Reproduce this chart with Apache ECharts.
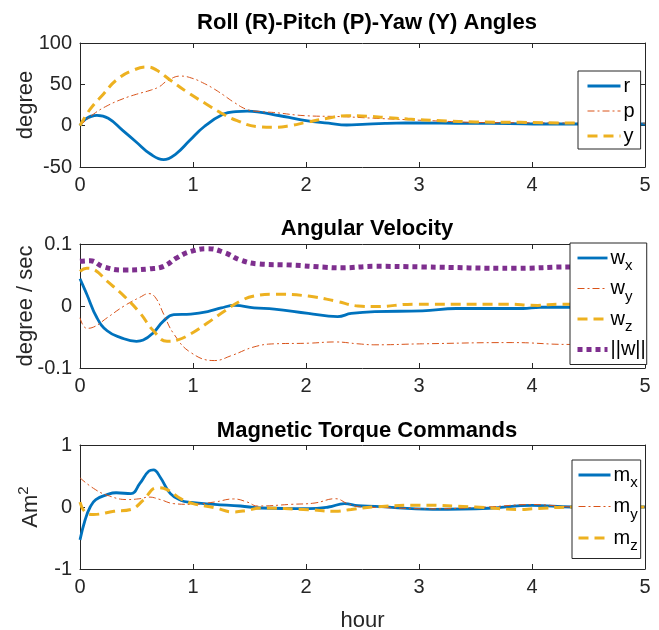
<!DOCTYPE html>
<html>
<head>
<meta charset="utf-8">
<script src="https://cdn.jsdelivr.net/npm/echarts@6/dist/echarts.min.js"></script>
<style>html,body{margin:0;padding:0;background:#fff}#c{width:659px;height:630px}</style>
</head>
<body>
<div id="c"></div>
<script>
// ---------- data (hour, value) ----------
const xTicks = [0, 1, 2, 3, 4, 5];

const titles = ['Roll (R)-Pitch (P)-Yaw (Y) Angles', 'Angular Velocity', 'Magnetic Torque Commands'];

// Plot 1: Euler angles (degree)
const rH = [0,0.05,0.15,0.25,0.38,0.5,0.62,0.74,0.85,0.97,1.1,1.27,1.38,1.48,1.6,1.71,1.85,2.0,2.2,2.36,2.5,2.7,2.88,3.2,3.47,3.8,4.1,4.36,4.7,5.0];
const rV = [0,8,12.5,9,-6,-20,-34,-41,-34,-18,-1,14,17,17.5,16,13.4,10,6,3,0.8,1.5,2.8,3.3,3,2.8,2.5,2,2,2,2];
const pH = [0,0.12,0.24,0.38,0.5,0.62,0.7,0.77,0.89,1.0,1.1,1.18,1.27,1.36,1.48,1.6,1.71,2.0,2.3,2.6,2.88,3.2,3.47,3.9,4.36,5.0];
const pV = [0,14,24,32.5,38,42.7,47,54,60,57,51,45,37,28.5,19.5,17,16,12,11,9,7.3,5.5,4,3.5,3.2,3];
const yH = [0,0.09,0.21,0.32,0.47,0.6,0.68,0.8,0.97,1.12,1.24,1.39,1.57,1.71,1.86,2.0,2.19,2.36,2.54,2.7,2.9,3.2,3.5,3.9,4.36,5.0];
const yV = [0,20,38.6,55,67,71,67,55,38.6,26,16,6,-1.2,-2,0,4,9,12,11.5,10,8,6,4.5,4,3.2,3];

// Plot 2: angular velocity (degree / sec)
const wxH = [0,0.06,0.15,0.24,0.36,0.5,0.56,0.65,0.74,0.83,0.98,1.13,1.25,1.37,1.54,1.72,2.02,2.28,2.4,2.61,3.03,3.33,3.92,4.07,4.33,5.0];
const wxV = [0.044,0.019,-0.019,-0.040,-0.051,-0.057,-0.055,-0.043,-0.024,-0.014,-0.013,-0.009,-0.003,0.001,-0.003,-0.005,-0.012,-0.017,-0.012,-0.009,-0.008,-0.004,-0.004,-0.002,-0.002,-0.002];
const wyH = [0,0.06,0.12,0.24,0.39,0.53,0.61,0.67,0.74,0.83,0.98,1.19,1.34,1.54,1.72,2.02,2.26,2.46,2.61,3.03,3.83,4.33,5.0];
const wyV = [-0.019,-0.036,-0.034,-0.019,0,0.014,0.020,0.013,-0.013,-0.045,-0.075,-0.088,-0.080,-0.066,-0.061,-0.060,-0.058,-0.061,-0.0626,-0.061,-0.059,-0.062,-0.062];
const wzH = [0,0.06,0.12,0.24,0.39,0.53,0.65,0.77,0.86,0.98,1.13,1.28,1.42,1.54,1.72,2.02,2.26,2.46,2.6,2.97,3.76,4.05,4.23,5.0];
const wzV = [0.056,0.061,0.059,0.040,0.016,-0.011,-0.040,-0.057,-0.055,-0.045,-0.027,-0.008,0.008,0.016,0.019,0.016,0.008,0,-0.001,0.003,0.003,0.001,0.003,0.003];
const wnH = [0,0.09,0.21,0.39,0.62,0.74,0.86,0.98,1.13,1.28,1.42,1.57,1.87,2.17,2.31,2.61,3.03,3.86,4.33,5.0];
const wnV = [0.072,0.073,0.063,0.058,0.060,0.064,0.078,0.088,0.0925,0.086,0.074,0.068,0.066,0.0625,0.0615,0.064,0.063,0.0607,0.063,0.063];

// Plot 3: magnetic torque commands (Am^2)
const mxH = [0,0.045,0.09,0.14,0.24,0.32,0.45,0.53,0.61,0.65,0.71,0.8,0.89,0.98,1.19,1.42,1.6,2.02,2.2,2.34,2.46,2.61,3.12,3.62,4.0,4.36,5.0];
const mxV = [-0.53,-0.21,0,0.12,0.20,0.23,0.215,0.38,0.58,0.60,0.48,0.215,0.11,0.075,0.043,0.016,-0.016,-0.027,0,0.054,0.02,0.01,-0.037,-0.02,0.027,0,0];
const myH = [0,0.12,0.24,0.42,0.53,0.61,0.71,0.83,0.98,1.19,1.36,1.48,1.57,1.87,2.08,2.26,2.37,2.49,2.7,3.1,3.6,4.0,4.4,5.0];
const myV = [0.47,0.30,0.19,0.12,0.134,0.16,0.12,0.054,0.043,0.08,0.13,0.08,0.016,0.043,0.065,0.134,0.054,0,-0.01,-0.03,0,0.04,0,0];
const mzH = [0,0.045,0.12,0.3,0.45,0.56,0.68,0.77,0.89,1.0,1.19,1.36,1.48,1.6,2.02,2.26,2.4,2.6,3.0,3.5,3.9,4.0,4.4,5.0];
const mzV = [0.08,-0.08,-0.12,-0.07,-0.04,0.11,0.31,0.28,0.134,0.054,-0.01,-0.08,-0.054,-0.016,-0.043,-0.07,-0.04,0,0.03,0,-0.04,-0.03,0,0];

// ---------- styling ----------
const C = {blue:'#0072BD', orange:'#D95319', yellow:'#EDB120', purple:'#7E2F8E'};
const AX = '#262626';
const FONT = '"Liberation Sans", Arial, Helvetica, sans-serif';
const zip = (h, v) => h.map((x, i) => [x, v[i]]);

const gridTops = [43, 244, 445];
const gridH = 124;
const yRanges = [
  {min:-50, max:100, interval:50, name:'degree', gap:43},
  {min:-0.1, max:0.1, interval:0.1, name:'degree / sec', gap:43},
  {min:-1, max:1, interval:1, name:'Am{sup|2}', gap:35}
];

const grids = gridTops.map(t => ({left:80, right:14, top:t, height:gridH, containLabel:false, outerBoundsMode:'none'}));

const xAxes = [], yAxes = [];
gridTops.forEach((t, i) => {
  xAxes.push({
    type:'value', gridIndex:i, min:0, max:5, interval:1, position:'bottom',
    axisLine:{show:true, onZero:false, lineStyle:{color:AX, width:1}},
    axisTick:{show:true, inside:true, length:5, lineStyle:{color:AX}},
    axisLabel:{show:true, color:AX, fontSize:20, fontFamily:FONT, margin:8},
    splitLine:{show:false},
    name: i === 2 ? 'hour' : '', nameLocation:'middle', nameGap:41, nameMoveOverlap:false,
    nameTextStyle:{color:AX, fontSize:22, fontFamily:FONT}
  });
  xAxes.push({
    type:'value', gridIndex:i, min:0, max:5, interval:1, position:'top',
    axisLine:{show:true, onZero:false, lineStyle:{color:AX, width:1}},
    axisTick:{show:true, inside:true, length:5, lineStyle:{color:AX}},
    axisLabel:{show:false}, splitLine:{show:false}
  });
  const yr = yRanges[i];
  yAxes.push({
    type:'value', gridIndex:i, min:yr.min, max:yr.max, interval:yr.interval, position:'left',
    axisLine:{show:true, onZero:false, lineStyle:{color:AX, width:1}},
    axisTick:{show:true, inside:true, length:5, lineStyle:{color:AX}},
    axisLabel:{show:true, color:AX, fontSize:20, fontFamily:FONT, margin:8},
    splitLine:{show:false},
    name: yr.name, nameLocation:'middle', nameGap: yr.gap, nameMoveOverlap:false,
    nameTextStyle:{color:AX, fontSize:22, fontFamily:FONT,
      rich:{sup:{fontSize:15, fontFamily:FONT, color:AX, padding:[0,0,14,0]}}}
  });
  yAxes.push({
    type:'value', gridIndex:i, min:yr.min, max:yr.max, interval:yr.interval, position:'right',
    axisLine:{show:true, onZero:false, lineStyle:{color:AX, width:1}},
    axisTick:{show:true, inside:true, length:5, lineStyle:{color:AX}},
    axisLabel:{show:false}, splitLine:{show:false}
  });
});

const DASH = [10, 6];
const DASHDOT = [7, 3, 2, 3];
const DOT = [5, 4];
const W = {solid:2.8, dash:3, dashdot:1, dot:5};

function line(name, g, h, v, color, width, type) {
  return {
    name, type:'line', xAxisIndex:g*2, yAxisIndex:g*2, data:zip(h, v),
    symbol:'none', showSymbol:false, smooth:0.45,
    lineStyle:{color, width, type, cap:'butt'},
    itemStyle:{color}, emphasis:{disabled:true}, z:2
  };
}

const series = [
  line('r', 0, rH, rV, C.blue, W.solid, 'solid'),
  line('p', 0, pH, pV, C.orange, W.dashdot, DASHDOT),
  line('y', 0, yH, yV, C.yellow, W.dash, DASH),
  line('wx', 1, wxH, wxV, C.blue, W.solid, 'solid'),
  line('wy', 1, wyH, wyV, C.orange, W.dashdot, DASHDOT),
  line('wz', 1, wzH, wzV, C.yellow, W.dash, DASH),
  line('wn', 1, wnH, wnV, C.purple, W.dot, DOT),
  line('mx', 2, mxH, mxV, C.blue, W.solid, 'solid'),
  line('my', 2, myH, myV, C.orange, W.dashdot, DASHDOT),
  line('mz', 2, mzH, mzV, C.yellow, W.dash, DASH)
];

const labelMap = {
  r:'r', p:'p', y:'y',
  wx:'w{sub|x}', wy:'w{sub|y}', wz:'w{sub|z}', wn:'||w||',
  mx:'m{sub|x}', my:'m{sub|y}', mz:'m{sub|z}'
};
const styleMap = {
  r:[C.blue, W.solid, 'solid'], p:[C.orange, W.dashdot, DASHDOT], y:[C.yellow, W.dash, DASH],
  wx:[C.blue, W.solid, 'solid'], wy:[C.orange, W.dashdot, DASHDOT], wz:[C.yellow, W.dash, DASH], wn:[C.purple, W.dot, DOT],
  mx:[C.blue, W.solid, 'solid'], my:[C.orange, W.dashdot, DASHDOT], mz:[C.yellow, W.dash, DASH]
};
const richSub = {sub:{fontSize:15, fontFamily:FONT, color:'#000', padding:[16,0,0,0]}};

function legend(names, left, top, gap, pad, iw) {
  return {
    orient:'vertical', left, top, itemWidth:iw, itemHeight:12, itemGap:gap,
    data: names.map(n => ({name:n,
      lineStyle:{color:styleMap[n][0], width:styleMap[n][1], type:styleMap[n][2], cap:'butt'},
      itemStyle:{color:'rgba(0,0,0,0)', borderWidth:0, opacity:0}})),
    padding:pad, borderColor:AX, borderWidth:1, backgroundColor:'#fff', borderRadius:0,
    selectedMode:false, z:10,
    itemStyle:{color:'rgba(0,0,0,0)', borderWidth:0, opacity:0},
    formatter: n => labelMap[n],
    textStyle:{fontSize:20, fontFamily:FONT, color:'#000', padding:[0,0,0,-2], rich:richSub}
  };
}

const option = {
  animation:false,
  backgroundColor:'#fff',
  title: titles.map((t, i) => ({
    text:t, left:362, textAlign:'center', top:[7, 213, 415][i],
    textStyle:{fontSize:22, fontWeight:'bold', color:'#000', fontFamily:FONT}
  })),
  grid: grids,
  xAxis: xAxes,
  yAxis: yAxes,
  legend: [
    legend(['r','p','y'], 578, 71, 5, [5,6,3,8], 33),
    legend(['wx','wy','wz','wn'], 570, 243, 5, [5,1,5,5], 30),
    legend(['mx','my','mz'], 572, 460, 6, [5,3,5,5], 32)
  ],
  series
};

const chart = echarts.init(document.getElementById('c'), null, {renderer:'canvas'});
chart.setOption(option);
</script>
</body>
</html>
